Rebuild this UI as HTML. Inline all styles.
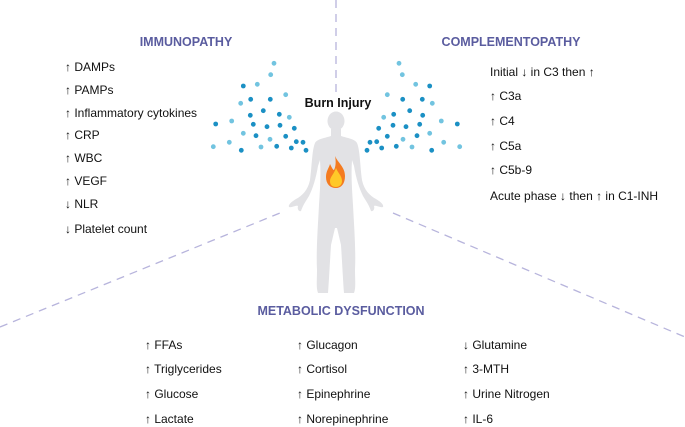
<!DOCTYPE html>
<html><head><meta charset="utf-8"><style>
html,body{margin:0;padding:0;background:#fff;}
svg{display:block;}
text{font-family:"Liberation Sans",Arial,sans-serif;}
.h{font-weight:bold;fill:#5a5c9f;font-size:12.5px;}
.t{font-size:12px;fill:#111;}
</style></head><body>
<svg width="685" height="427" viewBox="0 0 685 427" xmlns="http://www.w3.org/2000/svg">
<g stroke="#b7b4dc" stroke-width="1.3" stroke-dasharray="8,6" fill="none">
<line x1="336" y1="0" x2="336" y2="95"/>
<line x1="0" y1="327" x2="280" y2="213"/>
<line x1="393" y1="213" x2="685" y2="337"/>
</g>
<g id="dots">
<g fill="#72c4e0">
<circle cx="274" cy="63.3" r="2.4"/><circle cx="270.7" cy="74.7" r="2.4"/><circle cx="257.3" cy="84.3" r="2.4"/><circle cx="285.7" cy="94.7" r="2.4"/><circle cx="240.7" cy="103.3" r="2.4"/><circle cx="289.3" cy="117.3" r="2.4"/><circle cx="231.7" cy="121" r="2.4"/><circle cx="243.3" cy="133.3" r="2.4"/><circle cx="270" cy="139.3" r="2.4"/><circle cx="213.3" cy="146.7" r="2.4"/><circle cx="229.3" cy="142.3" r="2.4"/><circle cx="261" cy="147" r="2.4"/>
</g>
<g fill="#1b90c4">
<circle cx="243.3" cy="86" r="2.4"/><circle cx="250.7" cy="99.3" r="2.4"/><circle cx="270.3" cy="99.3" r="2.4"/><circle cx="263.3" cy="110.7" r="2.4"/><circle cx="250.3" cy="115.3" r="2.4"/><circle cx="279.3" cy="114.3" r="2.4"/><circle cx="215.7" cy="124" r="2.4"/><circle cx="253.3" cy="124.3" r="2.4"/><circle cx="267" cy="126.7" r="2.4"/><circle cx="280" cy="125.3" r="2.4"/><circle cx="294.3" cy="128.3" r="2.4"/><circle cx="256" cy="135.7" r="2.4"/><circle cx="285.7" cy="136.3" r="2.4"/><circle cx="241.3" cy="150.3" r="2.4"/><circle cx="276.7" cy="146.3" r="2.4"/><circle cx="291.3" cy="148" r="2.4"/><circle cx="296.3" cy="141.7" r="2.4"/><circle cx="303" cy="142.3" r="2.4"/><circle cx="306" cy="150.3" r="2.4"/>
</g>
</g>
<use href="#dots" transform="translate(673,0) scale(-1,1)"/>
<g fill="#e2e2e5">
<ellipse cx="336" cy="121" rx="8.5" ry="9.5"/>
<path d="M331,129 L331,136 C325,138 317,139 315,143 C312,150 312,165 310,180 C308,190 302,196 296,199 C291,202 288,205 289,207 C291,208 296,205 298,206 C297,209 299,212 301,211 C303,205 306,201 309,196 C313,188 316,178 318,166 L320,160 C321,175 320,190 319,205 C318,225 316,250 317,270 C317,280 316,288 318,293 L328,293 C329,280 330,260 331,245 L335,228 L337,228 L341,245 C342,260 343,280 344,293 L354,293 C356,288 355,280 355,270 C356,250 354,225 353,205 C352,190 351,175 352,160 L354,166 C356,178 359,188 363,196 C366,201 369,205 371,211 C373,212 375,209 374,206 C376,205 381,208 383,207 C384,205 381,202 376,199 C370,196 364,190 362,180 C360,165 360,150 357,143 C355,139 347,138 341,136 L341,129 Z"/>
</g>
<path d="M335,156 C338,163 345,167 345,176 C345,184 341,188 336,188 C330,188 326,184 326,177 C326,171 329,168 330,164 C332,168 333,170 334,170 C336,166 336,161 335,156 Z" fill="#f47b20"/>
<path d="M336,168 C338,173 342,176 342,181 C342,185 339,187 336,187 C332,187 330,185 330,181 C330,177 334,174 336,168 Z" fill="#ffc928"/>
<text x="338" y="107" text-anchor="middle" font-weight="bold" font-size="12.5" fill="#111">Burn Injury</text>
<text class="h" x="186" y="46" text-anchor="middle">IMMUNOPATHY</text>
<text class="h" x="511" y="46" text-anchor="middle">COMPLEMENTOPATHY</text>
<text class="h" x="341" y="315" text-anchor="middle">METABOLIC DYSFUNCTION</text>
<g class="t">
<text x="65" y="71">↑ DAMPs</text>
<text x="65" y="94">↑ PAMPs</text>
<text x="65" y="117">↑ Inflammatory cytokines</text>
<text x="65" y="139">↑ CRP</text>
<text x="65" y="162">↑ WBC</text>
<text x="65" y="185">↑ VEGF</text>
<text x="65" y="208">↓ NLR</text>
<text x="65" y="233">↓ Platelet count</text>
<text x="490" y="76">Initial ↓ in C3 then ↑</text>
<text x="490" y="100">↑ C3a</text>
<text x="490" y="125">↑ C4</text>
<text x="490" y="150">↑ C5a</text>
<text x="490" y="174">↑ C5b-9</text>
<text x="490" y="200">Acute phase ↓ then ↑ in C1-INH</text>
<text x="145" y="349">↑ FFAs</text>
<text x="145" y="373">↑ Triglycerides</text>
<text x="145" y="398">↑ Glucose</text>
<text x="145" y="423">↑ Lactate</text>
<text x="297" y="349">↑ Glucagon</text>
<text x="297" y="373">↑ Cortisol</text>
<text x="297" y="398">↑ Epinephrine</text>
<text x="297" y="423">↑ Norepinephrine</text>
<text x="463" y="349">↓ Glutamine</text>
<text x="463" y="373">↑ 3-MTH</text>
<text x="463" y="398">↑ Urine Nitrogen</text>
<text x="463" y="423">↑ IL-6</text>
</g>
</svg>
</body></html>
